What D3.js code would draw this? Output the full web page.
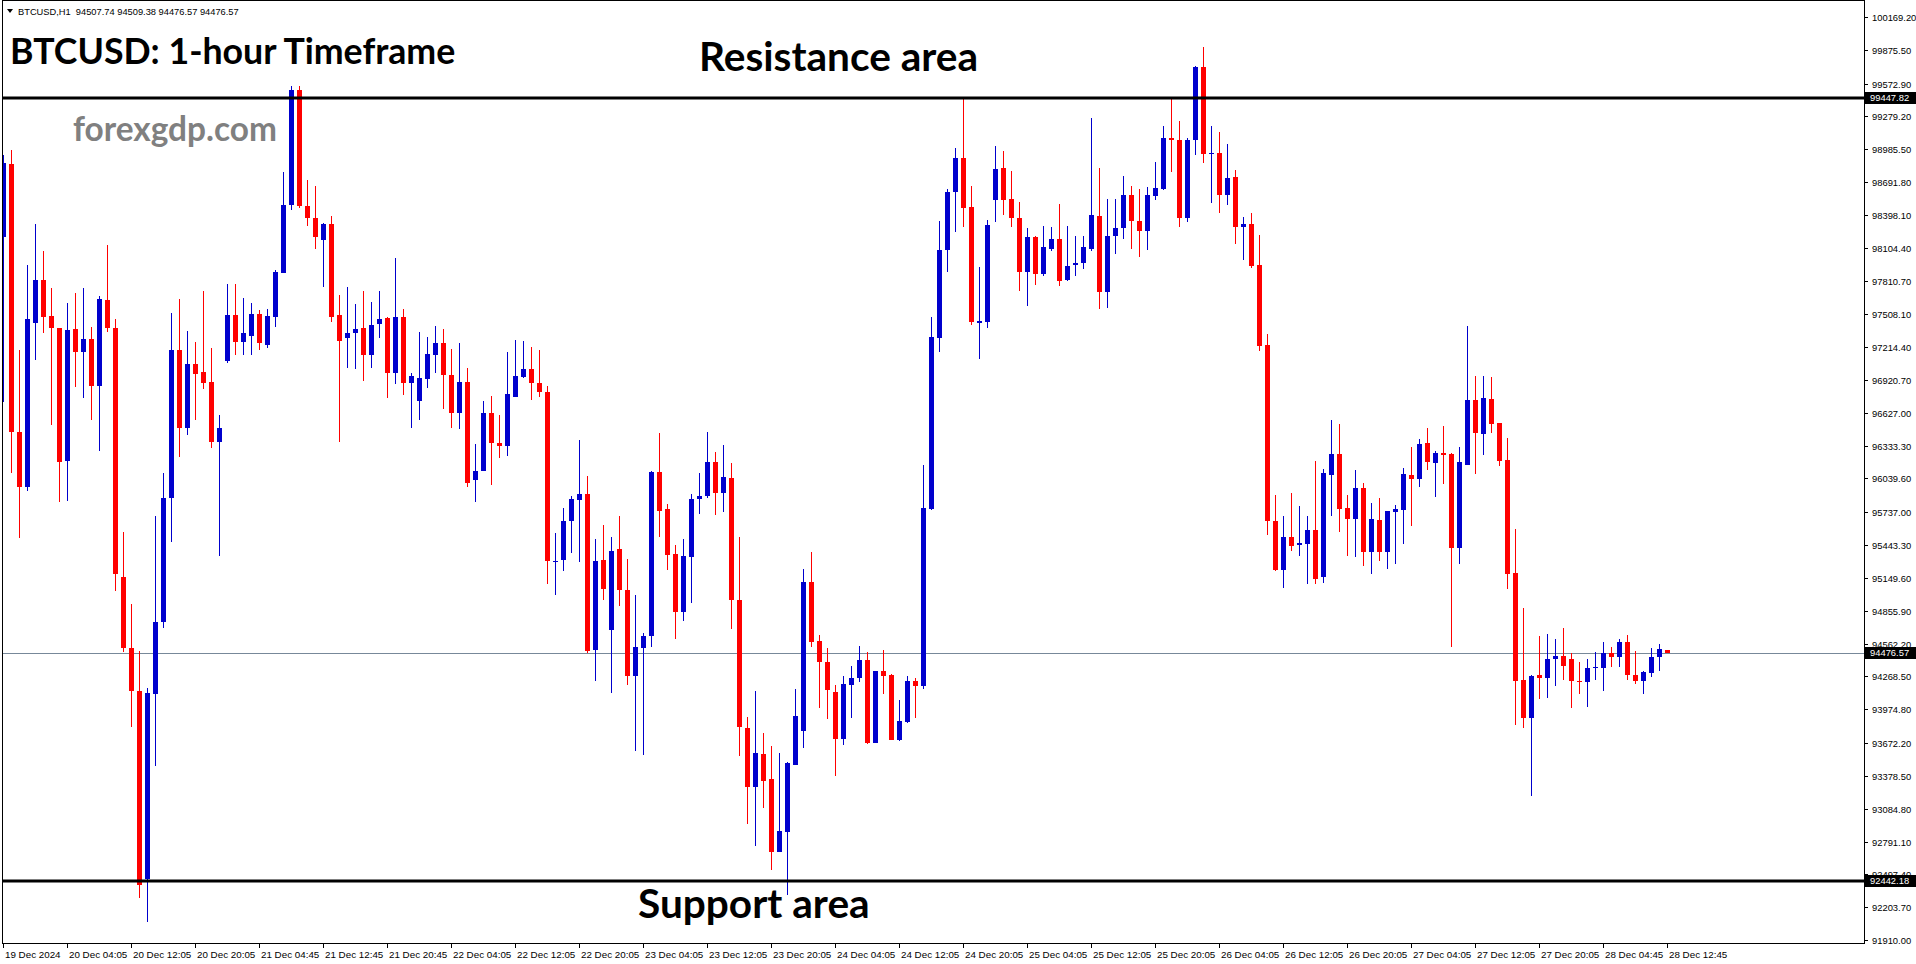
<!DOCTYPE html>
<html>
<head>
<meta charset="utf-8">
<script src="https://cdn.jsdelivr.net/npm/d3@7"></script>
<style>
body{margin:0;background:#ffffff;}
svg{display:block;}
text{font-family:"Liberation Sans",Arial,sans-serif;}
.big{font-family:Lato,"Open Sans",sans-serif;font-weight:bold;}
</style>
</head>
<body>
<svg id="chart"></svg>
<script>
// BTCUSD H1 candles (index 0 = 19 Dec 2024)
var opens = [98202,98855,96460,95968,97434,97815,97494,97383,96194,97378,
 97168,97288,96871,97634,97383,95159,94521,94139,92452,94109,
 94757,95867,97188,96490,97062,96992,96901,96369,97087,97504,
 97263,97318,97509,97238,97489,97880,98489,99518,98479,98368,
 98177,98318,97504,97293,97338,97383,97143,97419,97474,96987,
 97484,96896,96731,96926,97148,97253,96967,96630,96901,96023,
 96103,96625,96359,96334,96766,96947,97017,96891,96811,95299,
 95314,95656,95851,95902,94501,95309,94687,95410,95043,94270,
 94526,94626,96098,95766,95364,94847,95339,95856,95887,96189,
 95912,96043,94953,93808,93275,93572,93351,92693,92879,93477,
 93778,95113,94586,94395,94129,93713,94190,94250,94415,93677,
 94315,94280,93698,93858,94225,94180,95766,97293,98081,98599,
 98905,98468,97434,97439,98529,98820,98539,98368,97890,98202,
 97866,98096,98182,97820,97946,97966,98091,98388,97705,98207,
 98282,98574,98343,98257,98564,98629,99086,99066,98373,99066,
 99724,98945,98950,98579,98739,98287,98318,97951,97233,95661,
 95224,95515,95445,95450,95581,95154,96068,96259,95776,95681,
 95953,95384,95666,95384,95741,95761,96073,96033,96359,96174,
 96269,96259,95415,96159,96741,96434,96751,96535,96204,95194,
 94235,93894,94280,94250,94420,94451,94425,94225,94215,94340,
 94340,94476,94446,94576,94280,94225,94295,94441,94507.74];

var highs = [98930,98981,97188,97951,98318,98076,97740,97383,97609,97700,
 97745,97393,97669,98126,97469,95560,94918,94496,94165,95701,
 96088,97519,97644,97358,97263,97720,97208,96605,97780,97780,
 97654,97609,97549,97554,97905,98780,99548,99548,98710,98654,
 98328,98388,97680,97755,97599,97715,97619,97715,97484,98011,
 97554,96982,97348,97303,97404,97378,97198,97253,97027,96349,
 96731,96776,96605,97173,97278,97268,97218,97188,96866,95550,
 95776,95882,96384,96063,95500,95620,95515,95701,95319,94998,
 94656,96108,96444,95811,95445,95500,95902,96088,96454,96279,
 96339,96174,95515,93904,94139,93763,93642,93582,93502,94154,
 95229,95379,94641,94521,94195,94270,94365,94541,94491,94315,
 94506,94290,94054,94270,94255,96164,97484,98343,98629,98996,
 99448,98654,97931,98353,99016,98970,98790,98513,98282,98212,
 98298,98287,98494,98298,98207,98207,99267,98820,98539,98539,
 98745,98654,98629,98649,98870,99191,99448,99237,99086,99734,
 99905,99191,99141,99031,98800,98378,98413,98217,97333,95892,
 95701,95907,95791,95701,96194,96123,96565,96525,95892,96113,
 95998,95821,95867,95746,95801,96133,96319,96394,96490,96284,
 96510,96269,96319,97404,96957,96957,96947,96535,96399,95586,
 94878,94280,94631,94651,94606,94702,94476,94395,94425,94491,
 94581,94536,94601,94636,94496,94320,94526,94556,94509.38];

var lows = [96721,96093,95505,95928,97097,97338,96515,95832,95842,96861,
 96756,96560,96284,97353,95033,94486,93813,92286,92075,93467,
 94702,95475,96229,96425,96560,96836,96309,95349,97072,97143,
 97148,97143,97193,97208,97398,97880,98439,98464,98303,98096,
 97750,97444,96364,97032,97017,96916,97032,97293,96756,96886,
 96791,96495,96560,96846,96982,96665,96490,96480,95968,95827,
 96103,95978,96219,96239,96766,96937,96746,96766,95098,94993,
 95209,95369,95289,94481,94230,94948,94124,94903,94195,93597,
 93562,94536,95520,95224,94606,94767,94928,95726,95867,95716,
 95736,94697,93557,92944,92753,93094,92532,92693,92311,93472,
 93632,94536,93984,93884,93381,93652,93894,94215,93662,93677,
 94114,93698,93688,93848,93899,94160,95756,97168,97890,98242,
 98293,97409,97112,97388,98333,98393,98287,97715,97579,97775,
 97855,98071,97765,97805,97855,97911,98076,97554,97569,98046,
 98187,98096,98026,98087,98529,98619,98785,98293,98333,98930,
 98860,98508,98413,98483,98142,97991,97926,97178,95530,95209,
 95063,95395,95349,95098,95098,95108,95701,95565,95349,95334,
 95259,95189,95299,95234,95279,95450,95611,95968,96118,95877,
 95993,94536,95279,96159,96078,96254,96449,96149,95053,93838,
 93803,93195,94069,94079,94180,94240,93984,94109,93999,94240,
 94134,94350,94350,94240,94200,94114,94260,94315,94476.57];

var closes = [98865,96460,95968,97469,97815,97489,97383,96184,97368,97168,
 97288,96871,97644,97388,95184,94521,94134,92402,94119,94757,
 95867,97188,96490,97062,96972,96891,96369,96490,97504,97263,
 97343,97509,97248,97494,97885,98489,99518,98479,98368,98197,
 98318,97489,97273,97343,97378,97143,97414,97469,96982,97484,
 96896,96957,96937,97153,97253,96962,96630,96901,96003,96108,
 96625,96354,96334,96796,96957,97017,96891,96811,95299,95299,
 95661,95856,95902,94496,95299,95053,95389,95038,94270,94531,
 94631,96098,95751,95359,94847,95344,95856,95887,96189,95912,
 96053,94948,93813,93275,93582,93335,92693,92884,93492,93914,
 95113,94581,94395,94144,93713,94200,94255,94415,93672,94315,
 94275,93698,93868,94225,94180,95776,97303,98081,98604,98905,
 98464,97439,97449,98308,98810,98529,98368,97890,98202,97866,
 98112,98182,97810,97941,97966,98112,98398,97705,98207,98282,
 98574,98348,98257,98574,98639,99086,99066,98368,99066,99724,
 98940,98955,98579,98729,98287,98318,97941,97228,95656,95224,
 95515,95440,95460,95581,95144,96088,96259,95771,95681,95953,
 95384,95676,95379,95746,95766,96078,96033,96349,96184,96269,
 96254,95415,96189,96741,96444,96761,96530,96199,95189,94225,
 93894,94270,94250,94425,94451,94365,94225,94215,94345,94350,
 94476,94446,94576,94285,94225,94305,94441,94516,94476.57];

// one time label every 8 bars
var timeLabels = ["19 Dec 2024","20 Dec 04:05","20 Dec 12:05","20 Dec 20:05","21 Dec 04:45",
 "21 Dec 12:45","21 Dec 20:45","22 Dec 04:05","22 Dec 12:05","22 Dec 20:05","23 Dec 04:05",
 "23 Dec 12:05","23 Dec 20:05","24 Dec 04:05","24 Dec 12:05","24 Dec 20:05","25 Dec 04:05",
 "25 Dec 12:05","25 Dec 20:05","26 Dec 04:05","26 Dec 12:05","26 Dec 20:05","27 Dec 04:05",
 "27 Dec 12:05","27 Dec 20:05","28 Dec 04:45","28 Dec 12:45"];

var priceTicks = [100169.20,99875.50,99572.90,99279.20,98985.50,98691.80,98398.10,98104.40,
 97810.70,97508.10,97214.40,96920.70,96627.00,96333.30,96039.60,95737.00,95443.30,95149.60,
 94855.90,94562.20,94268.50,93974.80,93672.20,93378.50,93084.80,92791.10,92497.40,92203.70,91910.00];

var resistance = 99447.82;
var support = 92442.18;
var lastPrice = 94476.57;
var header = "BTCUSD,H1  94507.74 94509.38 94476.57 94476.57";

var screen = {width:1916, height:964};
var svg = d3.select("svg#chart")
            .attr("width",screen.width)
            .attr("height",screen.height)
            .style("background","#ffffff");

var plot = {left:2, right:1864, top:0, bottom:943};

//scales
var xScale = d3.scaleLinear()
              .domain([0,opens.length-1])
              .range([3.3,3.3+8*(opens.length-1)]);
var yScale = d3.scaleLinear()
              .domain([91910,100169.2])
              .range([940,17]);

var upColor = "#0000cd";
var downColor = "#ff0000";

var candles = opens.map(function(o,i){
  return {i:i, o:o, h:highs[i], l:lows[i], c:closes[i]};
});

svg.append("clipPath").attr("id","plotClip")
   .append("rect")
   .attr("x",plot.left+1).attr("y",plot.top)
   .attr("width",plot.right-plot.left-1).attr("height",plot.bottom-plot.top);

// current price line (under the candles)
svg.append("line")
   .attr("x1",plot.left).attr("x2",plot.right)
   .attr("y1",Math.round(yScale(lastPrice))+0.5)
   .attr("y2",Math.round(yScale(lastPrice))+0.5)
   .attr("stroke","#778899").attr("stroke-width",1);

var plotLand = svg.append("g").attr("clip-path","url(#plotClip)");

var bars = plotLand.selectAll("g.candle")
                   .data(candles)
                   .enter()
                   .append("g")
                   .classed("candle",true)
                   .attr("fill",function(d){return d.c >= d.o ? upColor : downColor;})
                   .attr("stroke",function(d){return d.c >= d.o ? upColor : downColor;});

bars.append("line")
    .attr("x1",function(d){return Math.round(xScale(d.i))+0.5;})
    .attr("x2",function(d){return Math.round(xScale(d.i))+0.5;})
    .attr("y1",function(d){return Math.round(yScale(d.h));})
    .attr("y2",function(d){return Math.round(yScale(d.l));})
    .attr("stroke-width",1);

bars.append("rect")
    .attr("stroke","none")
    .attr("x",function(d){return Math.round(xScale(d.i))-2;})
    .attr("width",5)
    .attr("y",function(d){return Math.round(yScale(Math.max(d.o,d.c)));})
    .attr("height",function(d){
      return Math.max(1,Math.round(yScale(Math.min(d.o,d.c)))-Math.round(yScale(Math.max(d.o,d.c))));
    });

// resistance / support
[resistance,support].forEach(function(v){
  svg.append("line")
     .attr("x1",plot.left).attr("x2",plot.right)
     .attr("y1",Math.round(yScale(v))).attr("y2",Math.round(yScale(v)))
     .attr("stroke","#000").attr("stroke-width",3);
});

// frame
svg.append("rect")
   .attr("x",plot.left+0.5).attr("y",plot.top+0.5)
   .attr("width",plot.right-plot.left).attr("height",plot.bottom-plot.top)
   .attr("fill","none").attr("stroke","#000").attr("stroke-width",1);

// price axis
var yAxis = svg.append("g").classed("yAxis",true);
var yTicks = yAxis.selectAll("g").data(priceTicks).enter().append("g")
                  .attr("transform",function(d){return "translate(0,"+(Math.round(yScale(d))+0.5)+")";});
yTicks.append("line").attr("x1",plot.right).attr("x2",plot.right+4)
      .attr("stroke","#000");
yTicks.append("text").attr("x",plot.right+8).attr("dy","0.35em")
      .attr("font-size","9.4px").attr("fill","#000")
      .text(function(d){return d.toFixed(2);});

var levelBoxes = yAxis.selectAll("g.level").data([resistance,lastPrice,support]).enter().append("g")
                      .classed("level",true)
                      .attr("transform",function(d){return "translate(0,"+Math.round(yScale(d))+")";});
levelBoxes.append("rect").attr("x",plot.right).attr("y",-6).attr("width",screen.width-plot.right).attr("height",12)
          .attr("fill","#000");
levelBoxes.append("text").attr("x",plot.right+6).attr("dy","0.35em")
          .attr("font-size","9.4px").attr("fill","#fff")
          .text(function(d){return d.toFixed(2);});

// time axis
var xAxis = svg.append("g").classed("xAxis",true);
var xTicks = xAxis.selectAll("g").data(timeLabels).enter().append("g")
                  .attr("transform",function(d,i){return "translate("+(Math.round(xScale(i*8))+0.5)+",0)";});
xTicks.append("line").attr("y1",plot.bottom).attr("y2",plot.bottom+5).attr("stroke","#000");
xTicks.append("text").attr("x",1.5).attr("y",plot.bottom+15)
      .attr("font-size","9.8px").attr("fill","#000")
      .text(function(d){return d;});

// header line
svg.append("path").attr("d","M7,9L13,9L10,13Z").attr("fill","#000");
svg.append("text").attr("x",18).attr("y",15)
   .attr("font-size","9.3px").attr("fill","#000")
   .style("white-space","pre")
   .text(header);

// annotations
svg.append("text").classed("big",true).attr("x",10).attr("y",64)
   .attr("font-size","35.7px").attr("fill","#000").text("BTCUSD: 1-hour Timeframe");
svg.append("text").classed("big",true).attr("x",73).attr("y",141)
   .attr("font-size","33.4px").attr("fill","#808080").text("forexgdp.com");
svg.append("text").classed("big",true).attr("x",699).attr("y",71)
   .attr("font-size","40.6px").attr("fill","#000").text("Resistance area");
svg.append("text").classed("big",true).attr("x",638).attr("y",918)
   .attr("font-size","40.6px").attr("fill","#000").text("Support area");
</script>
</body>
</html>
